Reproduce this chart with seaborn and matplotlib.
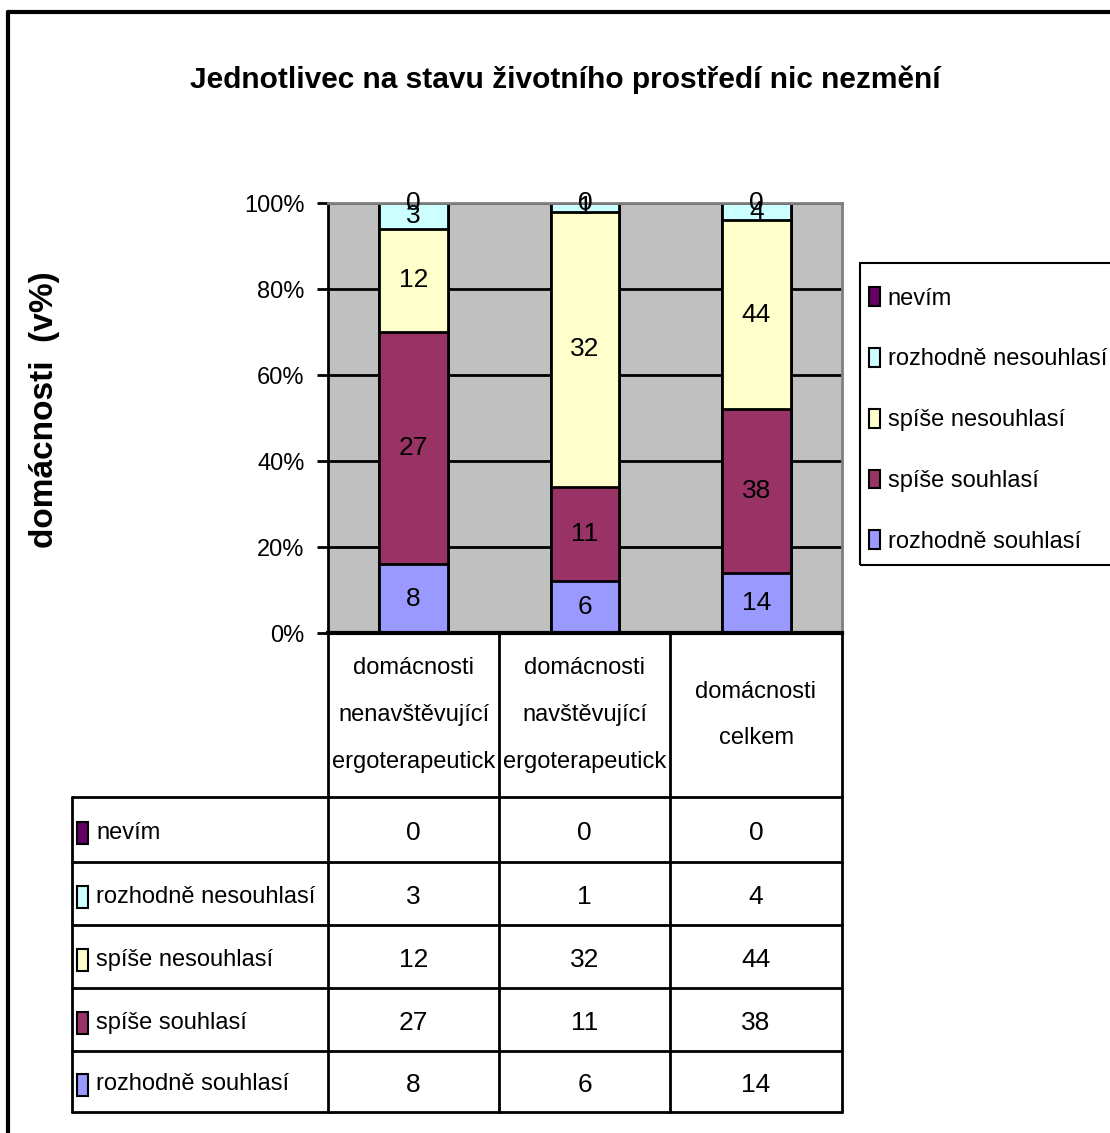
import matplotlib
matplotlib.use('Agg')
import pandas as pd
import matplotlib.pyplot as plt
import seaborn as sns
from matplotlib import font_manager
from matplotlib.patches import Patch, Rectangle
from matplotlib.lines import Line2D

# data
categories = ['domácnosti\nnenavštěvující\nergoterapeutick',
              'domácnosti\nnavštěvující\nergoterapeutick',
              'domácnosti\ncelkem']
series = ['rozhodně souhlasí', 'spíše souhlasí', 'spíše nesouhlasí',
          'rozhodně nesouhlasí', 'nevím']
rozhodne_souhlasi = [8, 6, 14]
spise_souhlasi = [27, 11, 38]
spise_nesouhlasi = [12, 32, 44]
rozhodne_nesouhlasi = [3, 1, 4]
nevim = [0, 0, 0]
colors = ['#9999FF', '#993366', '#FFFFCC', '#CCFFFF', '#660066']

title = 'Jednotlivec na stavu životního prostředí nic nezmění'
ylabel = 'domácnosti  (v%)'
yticks = [0, 20, 40, 60, 80, 100]

sns.set_theme(style='white')
names = {f.name for f in font_manager.fontManager.ttflist}
narrow = 'Liberation Sans Narrow' if 'Liberation Sans Narrow' in names else 'Liberation Sans'
plt.rcParams['font.family'] = [narrow, 'DejaVu Sans']
for k in ['text.color', 'axes.labelcolor', 'xtick.color', 'ytick.color']:
    plt.rcParams[k] = 'black'
FS = 21 if narrow == 'Liberation Sans Narrow' else 17   # labels
NS = FS + 2                                              # numbers

values = [rozhodne_souhlasi, spise_souhlasi, spise_nesouhlasi, rozhodne_nesouhlasi, nevim]
df = pd.DataFrame(values, index=series, columns=categories)
pct = df / df.sum(axis=0) * 100
cum = pct.cumsum(axis=0)

W, H = 1110, 1133
fig = plt.figure(figsize=(W / 100, H / 100), dpi=100)
fig.patch.set_facecolor('white')

ax = fig.add_axes([328 / W, (H - 633) / H, (842 - 328) / W, (633 - 203) / H])
ax.set_facecolor('#C0C0C0')

# stacked bars: draw cumulative heights from the top layer down
for i in reversed(range(len(series))):
    sns.barplot(x=categories, y=cum.iloc[i].values, order=categories, color=colors[i],
                saturation=1, width=0.4, edgecolor='black', linewidth=2, ax=ax, zorder=2)

# segment labels
for i, s in enumerate(series):
    for j, c in enumerate(categories):
        y = cum.iloc[i, j] - pct.iloc[i, j] / 2
        ax.text(j, y, str(df.iloc[i, j]), ha='center', va='center', fontsize=NS, zorder=5)

ax.set_xlim(-0.5, 2.5)
ax.set_ylim(0, 100)
ax.set_yticks(yticks)
ax.set_yticklabels([f'{v}%' for v in yticks])
ax.set_xticks([])
ax.set_xlabel('')
ax.set_ylabel('')
ax.tick_params(axis='y', direction='out', length=8, width=2, color='black',
               labelsize=FS, pad=9, left=True)
ax.set_axisbelow(True)
ax.yaxis.grid(True, color='black', linewidth=2)
ax.xaxis.grid(False)
for side in ['top', 'right']:
    ax.spines[side].set_color('#808080')
    ax.spines[side].set_linewidth(2)
ax.spines['left'].set_color('black')
ax.spines['left'].set_linewidth(2)
ax.spines['bottom'].set_color('black')
ax.spines['bottom'].set_linewidth(3)

# legend (frame drawn separately so it can run off the right edge)
handles = [Patch(facecolor=colors[i], edgecolor='black', linewidth=1.5, label=series[i])
           for i in reversed(range(len(series)))]
fig.legend(handles=handles, loc='upper left', bbox_to_anchor=(869 / W, 1 - 287 / H),
           fontsize=FS, handlelength=0.45, handleheight=0.85, handletextpad=0.35,
           labelspacing=1.62, borderpad=0, borderaxespad=0, frameon=False)
fig.add_artist(Rectangle((860 / W, 1 - 565 / H), 260 / W, (565 - 263) / H,
                         transform=fig.transFigure, facecolor='none',
                         edgecolor='black', linewidth=1.5))

# data table
tab = fig.add_axes([72 / W, (H - 1112) / H, (842 - 72) / W, (1112 - 633) / H])
tab.set_xlim(72, 842)
tab.set_ylim(1112, 633)
tab.axis('off')
col_x = [328, 499, 670, 842]
row_y = [797, 862, 925, 988, 1051, 1112]
for x in col_x:
    tab.plot([x, x], [633, 1112], color='black', lw=2, clip_on=False)
tab.plot([72, 72], [797, 1112], color='black', lw=2, clip_on=False)
for y in row_y:
    tab.plot([72, 842], [y, y], color='black', lw=2, clip_on=False)

for j, c in enumerate(categories):
    xc = (col_x[j] + col_x[j + 1]) / 2
    tab.text(xc, 715, c, ha='center', va='center', fontsize=FS, linespacing=2.45)

row_order = list(reversed(range(len(series))))
for r, i in enumerate(row_order):
    yc = (row_y[r] + row_y[r + 1]) / 2 + 3
    tab.add_patch(Rectangle((77, yc - 11), 11, 22, facecolor=colors[i], edgecolor='black',
                            linewidth=1.5, clip_on=False))
    tab.text(96, yc, series[i], ha='left', va='center', fontsize=FS)
    for j in range(len(categories)):
        xc = (col_x[j] + col_x[j + 1]) / 2
        tab.text(xc, yc, str(df.iloc[i, j]), ha='center', va='center', fontsize=NS)

# titles
fig.text(565 / W, 1 - 80 / H, title, ha='center', va='center', fontsize=21.5,
         fontweight='bold')
fig.text(45 / W, 1 - 410 / H, ylabel, rotation=90, ha='center', va='center',
         fontsize=24, fontweight='bold', family=['Liberation Sans', 'DejaVu Sans'])

# chart frame
fig.add_artist(Line2D([8 / W, 8 / W], [0, 1 - 12 / H], color='black', lw=3,
                      transform=fig.transFigure))
fig.add_artist(Line2D([8 / W, 1], [1 - 12 / H, 1 - 12 / H], color='black', lw=3,
                      transform=fig.transFigure))

fig.savefig('out.png', dpi=100)
